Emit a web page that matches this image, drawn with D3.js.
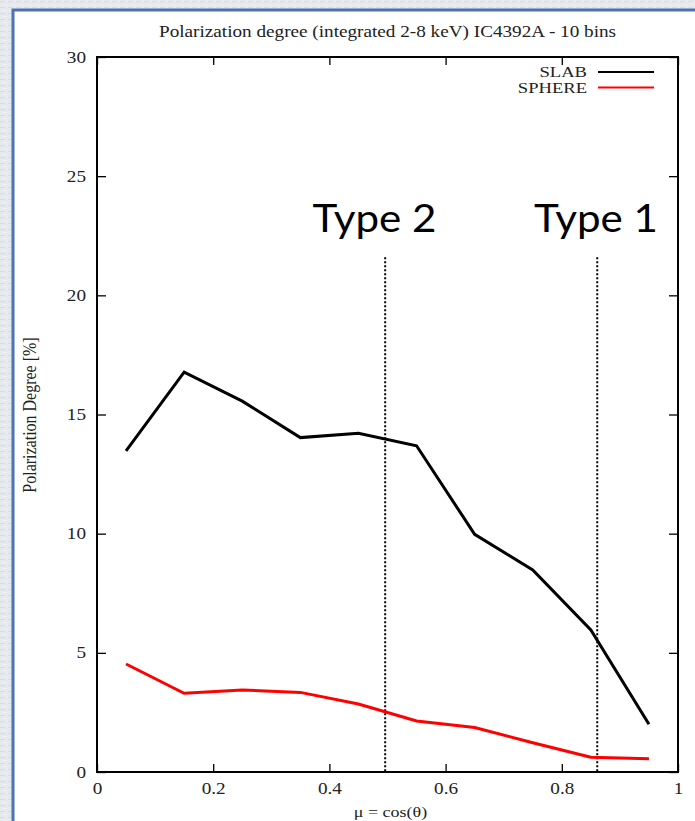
<!DOCTYPE html>
<html>
<head>
<meta charset="utf-8">
<script src="https://cdn.jsdelivr.net/npm/d3@7"></script>
<style>
body { margin: 0; background: #e4e7eb; }
svg { display: block; }
.serif { font-family: "Liberation Serif", "Times New Roman", serif; fill: #222; }
</style>
</head>
<body>
<div id="chart"></div>
<script>
//Chart data
var mu = [0.05, 0.15, 0.25, 0.35, 0.45, 0.55, 0.65, 0.75, 0.85, 0.95];
var slab = [13.47, 16.78, 15.56, 14.03, 14.21, 13.69, 9.97, 8.48, 5.96, 2.00];
var sphere = [4.53, 3.30, 3.44, 3.34, 2.85, 2.14, 1.87, 1.23, 0.62, 0.56];
var xTicks = [0, 0.2, 0.4, 0.6, 0.8, 1];
var xTickLabels = ["0", "0.2", "0.4", "0.6", "0.8", "1"];
var yTicks = [0, 5, 10, 15, 20, 25, 30];
var seriesNames = ["SLAB", "SPHERE"];
var seriesColors = ["#000000", "#ff0000"];
//Annotation markers (mu position, top of dotted line in %)
var markerNames = ["Type 2", "Type 1"];
var markerMu = [0.496, 0.861];
var markerTop = [21.6, 21.6];

var W = 695, H = 821;
var margin = {left: 97, right: 17, top: 57, bottom: 49};
var stretch = 1.2; //gnuplot text looks stretched sideways

var svg = d3.select("#chart")
    .append("svg")
    .attr("width", W)
    .attr("height", H);

//Slide-like backdrop
var defs = svg.append("defs");
var pat = defs.append("pattern")
    .attr("id", "tex")
    .attr("width", 8)
    .attr("height", 6)
    .attr("patternUnits", "userSpaceOnUse");
pat.append("rect").attr("width", 8).attr("height", 6).attr("fill", "#e6e9ed");
pat.append("rect").attr("x", 0).attr("y", 1).attr("width", 5).attr("height", 1).attr("fill", "#d9dde3");
pat.append("rect").attr("x", 3).attr("y", 4).attr("width", 4).attr("height", 1).attr("fill", "#eef0f3");

svg.append("rect")
    .attr("width", W)
    .attr("height", H)
    .attr("fill", "url(#tex)");

svg.append("rect")
    .attr("x", 13)
    .attr("y", 10)
    .attr("width", W)
    .attr("height", H)
    .attr("fill", "#ffffff")
    .attr("stroke", "#4d74b2")
    .attr("stroke-width", 3);

var x = d3.scaleLinear()
    .domain([0, 1])
    .range([margin.left, W - margin.right]);
var y = d3.scaleLinear()
    .domain([0, 30])
    .range([H - margin.bottom, margin.top]);

//Axes, gnuplot style: inward ticks mirrored on all four sides
function styleAxis(g) {
    g.select(".domain").remove();
    g.selectAll(".tick line").attr("stroke", "#000").attr("stroke-width", 1.3);
    g.selectAll(".tick text")
        .attr("class", "serif")
        .style("font-size", "16px");
}

var bottomAxis = svg.append("g")
    .attr("transform", "translate(0," + y(0) + ")")
    .call(d3.axisBottom(x)
        .tickValues(xTicks)
        .tickFormat(function(d, i) { return xTickLabels[i]; })
        .tickSizeInner(-8)
        .tickSizeOuter(0)
        .tickPadding(11))
    .call(styleAxis);
bottomAxis.selectAll(".tick text")
    .attr("transform", "scale(" + stretch + ",1)");

svg.append("g")
    .attr("transform", "translate(0," + y(30) + ")")
    .call(d3.axisTop(x).tickValues(xTicks).tickFormat("").tickSizeInner(-8).tickSizeOuter(0))
    .call(styleAxis);

var leftAxis = svg.append("g")
    .attr("transform", "translate(" + x(0) + ",0)")
    .call(d3.axisLeft(y)
        .tickValues(yTicks)
        .tickSizeInner(-9)
        .tickSizeOuter(0)
        .tickPadding(11))
    .call(styleAxis);
leftAxis.selectAll(".tick text")
    .attr("x", -11 / stretch)
    .attr("transform", "scale(" + stretch + ",1)");

svg.append("g")
    .attr("transform", "translate(" + x(1) + ",0)")
    .call(d3.axisRight(y).tickValues(yTicks).tickFormat("").tickSizeInner(-9).tickSizeOuter(0))
    .call(styleAxis);

//Plot border
svg.append("rect")
    .attr("x", x(0))
    .attr("y", y(30))
    .attr("width", x(1) - x(0))
    .attr("height", y(0) - y(30))
    .attr("fill", "none")
    .attr("stroke", "#000")
    .attr("stroke-width", 2);

//Dotted marker lines
svg.selectAll(".marker")
    .data(markerMu)
    .enter()
    .append("line")
    .attr("class", "marker")
    .attr("x1", function(d) { return x(d); })
    .attr("x2", function(d) { return x(d); })
    .attr("y1", function(d, i) { return y(markerTop[i]); })
    .attr("y2", y(0))
    .attr("stroke", "#000")
    .attr("stroke-width", 2)
    .attr("stroke-dasharray", "2,2");

//Data lines
var line = d3.line()
    .x(function(d) { return x(d[0]); })
    .y(function(d) { return y(d[1]); });

[slab, sphere].forEach(function(vals, k) {
    svg.append("path")
        .datum(mu.map(function(m, i) { return [m, vals[i]]; }))
        .attr("d", line)
        .attr("fill", "none")
        .attr("stroke", seriesColors[k])
        .attr("stroke-width", 3)
        .attr("stroke-linejoin", "miter");
});

//Legend
var legend = svg.selectAll(".legend")
    .data(seriesNames)
    .enter()
    .append("g")
    .attr("class", "legend")
    .attr("transform", function(d, i) { return "translate(0," + (72 + i * 15.5) + ")"; });
legend.append("text")
    .attr("class", "serif")
    .attr("transform", "translate(587,5) scale(" + stretch + ",1)")
    .attr("text-anchor", "end")
    .style("font-size", "15.5px")
    .text(function(d) { return d; });
legend.append("line")
    .attr("x1", 598)
    .attr("x2", 654)
    .attr("stroke", function(d, i) { return seriesColors[i]; })
    .attr("stroke-width", 2);

//Title and axis labels
svg.append("text")
    .attr("class", "serif")
    .attr("transform", "translate(" + ((x(0) + x(1)) / 2) + ",37) scale(" + stretch + ",1)")
    .attr("text-anchor", "middle")
    .style("font-size", "16px")
    .text("Polarization degree (integrated 2-8 keV) IC4392A - 10 bins");

svg.append("text")
    .attr("class", "serif")
    .attr("transform", "translate(" + ((x(0) + x(1)) / 2 + 3) + ",817) scale(" + stretch + ",1)")
    .attr("text-anchor", "middle")
    .style("font-size", "15px")
    .text("\u03bc = cos(\u03b8)");

svg.append("text")
    .attr("class", "serif")
    .attr("transform", "translate(36,415) scale(" + stretch + ",1) rotate(-90)")
    .attr("text-anchor", "middle")
    .style("font-size", "16px")
    .text("Polarization Degree [%]");

//Type annotations
svg.selectAll(".typelabel")
    .data(markerNames)
    .enter()
    .append("text")
    .attr("class", "typelabel")
    .attr("transform", function(d, i) {
        return "translate(" + (i == 0 ? 374.5 : 596) + ",232) scale(1.08,1)";
    })
    .attr("text-anchor", "middle")
    .style("font-family", "Lato, 'Open Sans', sans-serif")
    .style("font-size", "39px")
    .style("fill", "#000")
    .text(function(d) { return d; });
</script>
</body>
</html>
